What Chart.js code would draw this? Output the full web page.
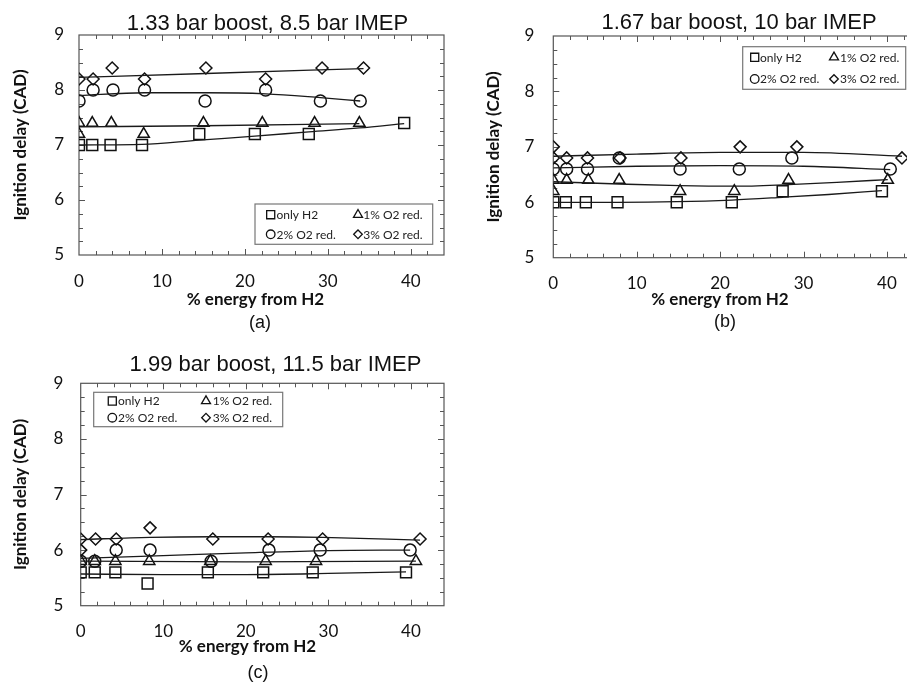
<!DOCTYPE html>
<html><head><meta charset="utf-8">
<script src="https://cdn.jsdelivr.net/npm/chart.js@4.4.1/dist/chart.umd.min.js"></script>
<style>
html,body{margin:0;padding:0;background:#fff;overflow:hidden;width:907px;height:684px;}
canvas{position:absolute;}
</style></head><body>
<canvas id="ca" style="left:0;top:0"></canvas>
<canvas id="cb" style="left:474px;top:0"></canvas>
<canvas id="cc" style="left:0;top:340px"></canvas>
<script>
// ---------- labels ----------
const seriesNames = ['only H2', '1% O2 red.', '2% O2 red.', '3% O2 red.'];
const panelTitles = ['1.33 bar boost, 8.5 bar IMEP', '1.67 bar boost, 10 bar IMEP', '1.99 bar boost, 11.5 bar IMEP'];
const panelLetters = ['(a)', '(b)', '(c)'];
const xAxisTitle = '% energy from H2';
const yAxisTitle = 'Ignition delay (CAD)';
const xTicks = [0, 10, 20, 30, 40];
const yTicks = [5, 6, 7, 8, 9];

// ---------- panel (a) ----------
const a_h2_x = [0, 1.6, 3.8, 7.6, 14.5, 21.2, 27.7, 39.2];
const a_h2_y = [7.0, 7.0, 7.0, 7.0, 7.2, 7.2, 7.2, 7.4];
const a_o1_x = [0, 0, 1.6, 3.9, 7.8, 15.0, 22.1, 28.4, 33.8];
const a_o1_y = [7.4, 7.2, 7.4, 7.4, 7.2, 7.4, 7.4, 7.4, 7.4];
const a_o2_x = [0, 1.7, 4.1, 7.9, 15.2, 22.5, 29.1, 33.9];
const a_o2_y = [7.8, 8.0, 8.0, 8.0, 7.8, 8.0, 7.8, 7.8];
const a_o3_x = [0, 1.7, 4.0, 7.9, 15.3, 22.5, 29.3, 34.3];
const a_o3_y = [8.2, 8.2, 8.4, 8.2, 8.4, 8.2, 8.4, 8.4];
const a_h2_fx = [0, 7.6, 14.5, 21.2, 27.7, 33.8, 39.2];
const a_h2_fy = [7.0, 7.01, 7.09, 7.16, 7.24, 7.31, 7.39];
const a_o1_fx = [0, 15, 33.8];
const a_o1_fy = [7.33, 7.35, 7.39];
const a_o2_fx = [0, 7.9, 15.2, 22.5, 29.1, 33.9];
const a_o2_fy = [7.90, 7.95, 7.95, 7.93, 7.86, 7.80];
const a_o3_fx = [0, 15.3, 34.3];
const a_o3_fy = [8.23, 8.30, 8.39];

// ---------- panel (b) ----------
const b_h2_x = [0, 1.5, 3.9, 7.7, 14.8, 21.4, 27.5, 39.4];
const b_h2_y = [6.0, 6.0, 6.0, 6.0, 6.0, 6.0, 6.2, 6.2];
const b_o1_x = [0, 0, 1.6, 4.2, 7.9, 15.2, 21.7, 28.2, 40.1];
const b_o1_y = [6.4, 6.2, 6.4, 6.4, 6.4, 6.2, 6.2, 6.4, 6.4];
const b_o2_x = [0, 1.6, 4.1, 7.9, 15.2, 22.3, 28.6, 40.4];
const b_o2_y = [6.6, 6.6, 6.6, 6.8, 6.6, 6.6, 6.8, 6.6];
const b_o3_x = [0, 0, 1.6, 4.1, 8.0, 15.3, 22.4, 29.2, 41.8];
const b_o3_y = [7.0, 6.8, 6.8, 6.8, 6.8, 6.8, 7.0, 7.0, 6.8];
const b_h2_fx = [0, 7.7, 14.8, 21.4, 27.5, 33, 39.4];
const b_h2_fy = [6.0, 6.0, 6.01, 6.04, 6.09, 6.14, 6.21];
const b_o1_fx = [0, 7.9, 15.2, 21.7, 28.2, 34, 40.1];
const b_o1_fy = [6.37, 6.33, 6.30, 6.29, 6.32, 6.36, 6.41];
const b_o2_fx = [0, 10, 20, 30, 40.4];
const b_o2_fy = [6.62, 6.65, 6.66, 6.65, 6.59];
const b_o3_fx = [0, 10, 20, 30, 41.8];
const b_o3_fy = [6.83, 6.87, 6.90, 6.90, 6.83];

// ---------- panel (c) ----------
const c_h2_x = [0, 1.7, 4.2, 8.1, 15.4, 22.1, 28.1, 39.4];
const c_h2_y = [5.6, 5.6, 5.6, 5.4, 5.6, 5.6, 5.6, 5.6];
const c_o1_x = [0, 1.7, 4.2, 8.3, 15.7, 22.4, 28.5, 40.6];
const c_o1_y = [5.8, 5.8, 5.8, 5.8, 5.8, 5.8, 5.8, 5.8];
const c_o2_x = [0, 1.7, 4.3, 8.4, 15.8, 22.8, 29.0, 39.9];
const c_o2_y = [5.8, 5.8, 6.0, 6.0, 5.8, 6.0, 6.0, 6.0];
const c_o3_x = [0, 0, 1.8, 4.3, 8.4, 16.0, 22.7, 29.3, 41.1];
const c_o3_y = [6.2, 6.0, 6.2, 6.2, 6.4, 6.2, 6.2, 6.2, 6.2];
const c_h2_fx = [0, 10, 20, 30, 39.4];
const c_h2_fy = [5.57, 5.56, 5.56, 5.58, 5.61];
const c_o1_fx = [0, 20, 40.6];
const c_o1_fy = [5.80, 5.79, 5.80];
const c_o2_fx = [0, 10, 20, 30, 39.9];
const c_o2_fy = [5.85, 5.90, 5.95, 5.99, 6.00];
const c_o3_fx = [0, 8.4, 16.0, 22.7, 29.3, 41.1];
const c_o3_fy = [6.19, 6.23, 6.24, 6.24, 6.23, 6.18];

// ---------- helpers ----------
const SANS = 'Lato, "Open Sans", sans-serif';
const ARIAL = '"Liberation Sans", Arial, sans-serif';
const INK = '#111';
const FRAME = '#555';
const pts = (xs, ys) => xs.map((x, i) => ({x: x, y: ys[i]}));

const markerStyles = [
  {pointStyle: 'rect', radius: 7.7, lr: 5.7},
  {pointStyle: 'triangle', radius: 6.5, lr: 5.2},
  {pointStyle: 'circle', radius: 6, lr: 4.3},
  {pointStyle: 'rectRot', radius: 6, lr: 4.3}
];

function buildDatasets(series) {
  const ds = [];
  series.forEach((s, i) => {
    ds.push({label: seriesNames[i] + ' trend', data: pts(s.fx, s.fy), showLine: true,
      pointRadius: 0, borderColor: '#1a1a1a', borderWidth: 1.3,
      cubicInterpolationMode: 'monotone', fill: false});
  });
  series.forEach((s, i) => {
    ds.push({label: seriesNames[i], data: pts(s.x, s.y), showLine: false,
      pointStyle: markerStyles[i].pointStyle, pointRadius: markerStyles[i].radius,
      borderColor: INK, backgroundColor: 'rgba(0,0,0,0)', borderWidth: 1.5,
      pointBorderColor: INK, pointBackgroundColor: 'rgba(0,0,0,0)', pointBorderWidth: 1.5});
  });
  return ds;
}

// frame and inward ticks on all four sides
const frameTicks = {
  id: 'frameTicks',
  beforeDatasetsDraw(chart) {
    const ctx = chart.ctx, ca = chart.chartArea;
    const xs = chart.scales.x, ys = chart.scales.y;
    ctx.save();
    ctx.strokeStyle = FRAME; ctx.lineWidth = 1.2;
    ctx.strokeRect(ca.left, ca.top, ca.right - ca.left, ca.bottom - ca.top);
    ctx.lineWidth = 1;
    ctx.beginPath();
    for (let v = xs.min + 2; v < xs.max - 1e-6; v += 2) {
      const p = Math.round(xs.getPixelForValue(v)) + 0.5;
      const len = (Math.abs(v % 10) < 1e-6) ? 6 : 4;
      ctx.moveTo(p, ca.bottom); ctx.lineTo(p, ca.bottom - len);
      ctx.moveTo(p, ca.top); ctx.lineTo(p, ca.top + len);
    }
    for (let v = ys.min + 0.25; v < ys.max - 1e-6; v += 0.25) {
      const p = Math.round(ys.getPixelForValue(v)) + 0.5;
      const len = (Math.abs(v - Math.round(v)) < 1e-6) ? 6 : 4;
      ctx.moveTo(ca.left, p); ctx.lineTo(ca.left + len, p);
      ctx.moveTo(ca.right, p); ctx.lineTo(ca.right - len, p);
    }
    ctx.stroke();
    ctx.restore();
  }
};

// legend drawn inside the plot, 2x2
const insideLegend = {
  id: 'insideLegend',
  afterDatasetsDraw(chart, args, o) {
    if (!o || !o.box) return;
    const ctx = chart.ctx;
    const [l, t, r, b] = o.box;
    ctx.save();
    ctx.fillStyle = '#fff';
    ctx.fillRect(l, t, r - l, b - t);
    ctx.strokeStyle = '#777'; ctx.lineWidth = 1.2;
    ctx.strokeRect(l, t, r - l, b - t);
    ctx.font = '12px ' + SANS;
    ctx.textBaseline = 'middle'; ctx.textAlign = 'left';
    for (let i = 0; i < 4; i++) {
      const col = i % 2, row = Math.floor(i / 2);
      const y = o.rows[row];
      ctx.strokeStyle = INK; ctx.fillStyle = 'rgba(0,0,0,0)'; ctx.lineWidth = 1.3;
      Chart.helpers.drawPoint(ctx, {pointStyle: markerStyles[i].pointStyle, radius: markerStyles[i].lr, borderWidth: 1.3}, o.mx[col], y);
      ctx.fillStyle = '#222';
      ctx.fillText(seriesNames[i], o.tx[col], y + 0.5);
    }
    ctx.restore();
  }
};

// x-axis title and panel letter at given positions
const panelText = {
  id: 'panelText',
  afterDraw(chart, args, o) {
    const ctx = chart.ctx;
    ctx.save();
    ctx.fillStyle = INK; ctx.textAlign = 'center'; ctx.textBaseline = 'middle';
    ctx.font = 'bold 17px ' + SANS;
    ctx.fillText(chart.options.scales.x.title.text, o.xTitle[0], o.xTitle[1]);
    ctx.font = '18px ' + ARIAL;
    ctx.fillText(o.letter, o.letterPos[0], o.letterPos[1]);
    ctx.restore();
  }
};

function makeChart(cfg) {
  const cv = document.getElementById(cfg.id);
  cv.width = cfg.W; cv.height = cfg.H;
  cv.style.width = cfg.W + 'px'; cv.style.height = cfg.H + 'px';
  return new Chart(cv, {
    type: 'scatter',
    data: {datasets: buildDatasets(cfg.series)},
    plugins: [frameTicks, insideLegend, panelText],
    options: {
      responsive: false, animation: false, devicePixelRatio: 1, events: [],
      layout: {padding: {left: 0, right: 0, top: 0, bottom: cfg.padBottom}},
      plugins: {
        legend: {display: false}, tooltip: {enabled: false},
        title: {display: true, text: cfg.title, color: INK,
          font: {family: ARIAL, size: 22, weight: 'normal', lineHeight: 1},
          padding: cfg.titlePad},
        insideLegend: cfg.legend,
        panelText: {xTitle: cfg.xTitlePos, letter: cfg.letter, letterPos: cfg.letterPos}
      },
      scales: {
        x: {type: 'linear', position: 'bottom', min: 0, max: 44,
          afterBuildTicks: s => { s.ticks = xTicks.map(v => ({value: v})); },
          afterFit: s => { s.height = cfg.xH; },
          grid: {display: false, drawTicks: false}, border: {display: false},
          ticks: {color: INK, font: {family: SANS, size: 17}, padding: cfg.xTickPad, maxRotation: 0, autoSkip: false},
          title: {display: false, text: xAxisTitle}},
        y: {type: 'linear', position: 'left', min: 5, max: 9,
          afterBuildTicks: s => { s.ticks = yTicks.map(v => ({value: v})); },
          afterFit: s => { s.width = cfg.yW; },
          grid: {display: false, drawTicks: false}, border: {display: false},
          ticks: {color: INK, font: {family: SANS, size: 17}, padding: cfg.yTickPad},
          title: {display: true, text: yAxisTitle, color: INK,
            font: {family: SANS, size: 17, weight: 'bold', lineHeight: 1.2},
            padding: {top: cfg.yTitlePad, bottom: 0}}},
        yR: {type: 'linear', position: 'right', min: 5, max: 9,
          afterFit: s => { s.width = cfg.rW; },
          grid: {display: false, drawTicks: false}, border: {display: false},
          ticks: {display: false}}
      }
    }
  });
}

makeChart({
  id: 'ca', W: 535, H: 340, yW: 79, rW: 91, xH: 59, padBottom: 26,
  titlePad: {top: 13, bottom: 0}, yTickPad: 15, yTitlePad: 10.5, xTickPad: 16,
  title: panelTitles[0], letter: panelLetters[0],
  xTitlePos: [255.5, 300], letterPos: [260, 323],
  legend: {box: [255, 204, 432.7, 244.3], rows: [214.7, 234.3], mx: [270.7, 358], tx: [276.5, 363.3]},
  series: [
    {x: a_h2_x, y: a_h2_y, fx: a_h2_fx, fy: a_h2_fy},
    {x: a_o1_x, y: a_o1_y, fx: a_o1_fx, fy: a_o1_fy},
    {x: a_o2_x, y: a_o2_y, fx: a_o2_fx, fy: a_o2_fy},
    {x: a_o3_x, y: a_o3_y, fx: a_o3_fx, fy: a_o3_fy}]
});
makeChart({
  id: 'cb', W: 530, H: 340, yW: 79.3, rW: 83.7, xH: 55, padBottom: 27.3,
  titlePad: {top: 12, bottom: 2}, yTickPad: 19, yTitlePad: 9.1, xTickPad: 15.4,
  title: panelTitles[1], letter: panelLetters[1],
  xTitlePos: [246, 300], letterPos: [251, 321.7],
  legend: {box: [268.7, 46.7, 431.7, 89.3], rows: [57.3, 79], mx: [280.7, 360], tx: [286, 366]},
  series: [
    {x: b_h2_x, y: b_h2_y, fx: b_h2_fx, fy: b_h2_fy},
    {x: b_o1_x, y: b_o1_y, fx: b_o1_fx, fy: b_o1_fy},
    {x: b_o2_x, y: b_o2_y, fx: b_o2_fx, fy: b_o2_fy},
    {x: b_o3_x, y: b_o3_y, fx: b_o3_fx, fy: b_o3_fy}]
});
makeChart({
  id: 'cc', W: 551, H: 344, yW: 80.7, rW: 107, xH: 58.6, padBottom: 19.7,
  titlePad: {top: 14, bottom: 7.3}, yTickPad: 17.4, yTitlePad: 10.5, xTickPad: 16,
  title: panelTitles[2], letter: panelLetters[2],
  xTitlePos: [247.5, 306.7], letterPos: [258, 333.3],
  legend: {box: [93.7, 52.3, 282.7, 86.7], rows: [61, 77.7], mx: [112.3, 206], tx: [118, 212.7]},
  series: [
    {x: c_h2_x, y: c_h2_y, fx: c_h2_fx, fy: c_h2_fy},
    {x: c_o1_x, y: c_o1_y, fx: c_o1_fx, fy: c_o1_fy},
    {x: c_o2_x, y: c_o2_y, fx: c_o2_fx, fy: c_o2_fy},
    {x: c_o3_x, y: c_o3_y, fx: c_o3_fx, fy: c_o3_fy}]
});
</script>
</body></html>
